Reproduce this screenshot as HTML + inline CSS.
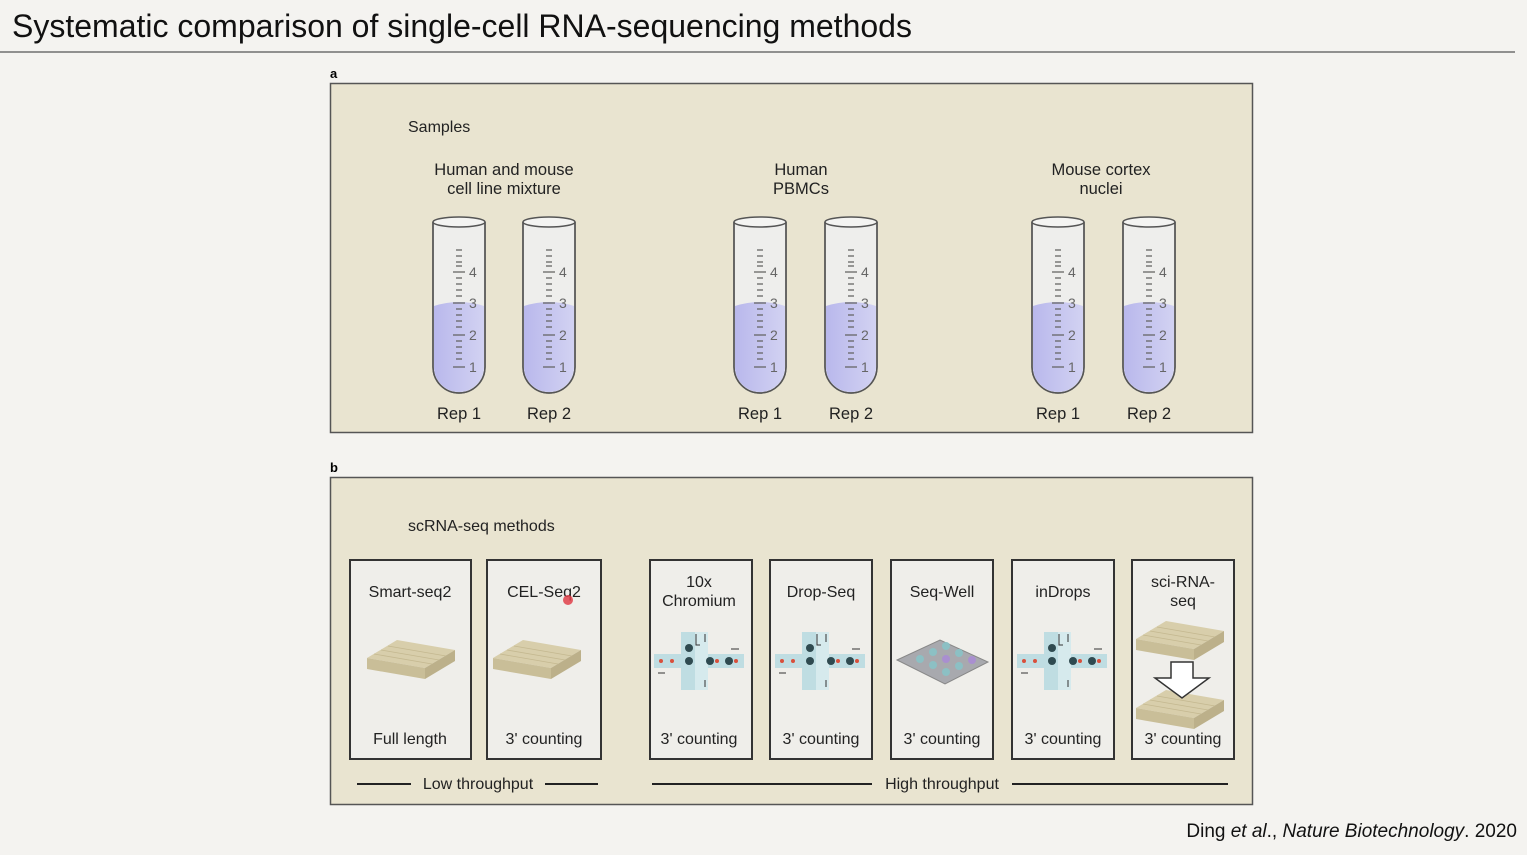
<!DOCTYPE html>
<html><head><meta charset="utf-8"><style>
html,body{margin:0;padding:0;background:#f4f3f0;}
svg{display:block;font-family:"Liberation Sans",sans-serif;}
</style></head><body>
<svg width="1527" height="855" viewBox="0 0 1527 855" xmlns="http://www.w3.org/2000/svg">
<defs>
<linearGradient id="liq" x1="0" x2="1"><stop offset="0" stop-color="#b9b8ec"/><stop offset="1" stop-color="#d2d2f2"/></linearGradient>
<g id="tube">
 <path d="M-26,0 L-26,145 A26,26 0 0 0 26,145 L26,0" fill="#eeeeec" stroke="#555" stroke-width="1.5"/>
 <path d="M-25,84 Q0,76 25,84 L25,145 A25,25 0 0 1 -25,145 Z" fill="url(#liq)"/>
 <path d="M-26,0 L-26,145 A26,26 0 0 0 26,145 L26,0" fill="none" stroke="#555" stroke-width="1.5"/>
 <ellipse cx="0" cy="0" rx="26" ry="5" fill="#f4f4f2" stroke="#555" stroke-width="1.5"/>
 <g stroke="#666" stroke-width="1.3">
  <line x1="-3" y1="28" x2="3" y2="28"/><line x1="-3" y1="34" x2="3" y2="34"/><line x1="-3" y1="40" x2="3" y2="40"/><line x1="-3" y1="44" x2="3" y2="44"/>
  <line x1="-6" y1="50" x2="6" y2="50"/><line x1="-3" y1="56" x2="3" y2="56"/><line x1="-3" y1="62" x2="3" y2="62"/><line x1="-3" y1="68" x2="3" y2="68"/><line x1="-3" y1="74" x2="3" y2="74"/>
  <line x1="-6" y1="81" x2="6" y2="81"/><line x1="-3" y1="87" x2="3" y2="87"/><line x1="-3" y1="93" x2="3" y2="93"/><line x1="-3" y1="99" x2="3" y2="99"/><line x1="-3" y1="105" x2="3" y2="105"/>
  <line x1="-6" y1="113" x2="6" y2="113"/><line x1="-3" y1="119" x2="3" y2="119"/><line x1="-3" y1="125" x2="3" y2="125"/><line x1="-3" y1="131" x2="3" y2="131"/><line x1="-3" y1="137" x2="3" y2="137"/>
  <line x1="-6" y1="145" x2="6" y2="145"/>
 </g>
 <g fill="#666" font-size="14"><text x="10" y="55">4</text><text x="10" y="86">3</text><text x="10" y="118">2</text><text x="10" y="150">1</text></g>
</g>
<g id="plate">
 <path d="M-44,-4 L-14,-22 L44,-12 L14,6 Z" fill="#d8ceab"/>
 <path d="M-44,-4 L14,6 L14,17 L-44,7 Z" fill="#c9be98"/>
 <path d="M14,6 L44,-12 L44,-1 L14,17 Z" fill="#bcb08a"/>
 <g stroke="#c4b890" stroke-width="0.8"><line x1="-37" y1="-8" x2="21" y2="2"/><line x1="-30" y1="-12" x2="28" y2="-2"/><line x1="-23" y1="-16" x2="35" y2="-6"/></g>
</g>
<g id="chip">
 <path d="M-45,-6 L-18,-6 L-18,-28 L9,-28 L9,-6 L45,-6 L45,8 L9,8 L9,30 L-18,30 L-18,8 L-45,8 Z" fill="#bfdde2"/>
 <rect x="-4" y="-28" width="13" height="58" fill="#d6eaed"/>
 <g fill="#2f4a50"><circle cx="-10" cy="-12" r="4"/><circle cx="-10" cy="1" r="4"/><circle cx="11" cy="1" r="4"/><circle cx="30" cy="1" r="4"/></g>
 <g fill="#d9503c"><circle cx="-38" cy="1" r="2"/><circle cx="-27" cy="1" r="2"/><circle cx="18" cy="1" r="2"/><circle cx="37" cy="1" r="2"/></g>
 <g stroke="#333" stroke-width="1" fill="none"><path d="M-3,-26 L-3,-15 L1,-15"/><line x1="6" y1="-26" x2="6" y2="-18"/><line x1="6" y1="27" x2="6" y2="20"/><line x1="32" y1="-11" x2="40" y2="-11"/><line x1="-41" y1="13" x2="-34" y2="13"/></g>
</g>
</defs>
<text x="12" y="37" font-size="32" fill="#111">Systematic comparison of single-cell RNA-sequencing methods</text>
<line x1="0" y1="52" x2="1515" y2="52" stroke="#555" stroke-width="1.2"/>
<text x="330" y="78" font-size="13" font-weight="bold">a</text>
<rect x="330.5" y="83.5" width="922" height="349" fill="#e9e4d0" stroke="#555" stroke-width="1.5"/>
<text x="408" y="132" font-size="16" fill="#222">Samples</text>
<g font-size="16.5" fill="#222" text-anchor="middle">
<text x="504" y="175">Human and mouse</text><text x="504" y="194">cell line mixture</text>
<text x="801" y="175">Human</text><text x="801" y="194">PBMCs</text>
<text x="1101" y="175">Mouse cortex</text><text x="1101" y="194">nuclei</text>
<text x="459" y="419">Rep 1</text><text x="549" y="419">Rep 2</text>
<text x="760" y="419">Rep 1</text><text x="851" y="419">Rep 2</text>
<text x="1058" y="419">Rep 1</text><text x="1149" y="419">Rep 2</text>
</g>
<use href="#tube" x="459" y="222"/><use href="#tube" x="549" y="222"/>
<use href="#tube" x="760" y="222"/><use href="#tube" x="851" y="222"/>
<use href="#tube" x="1058" y="222"/><use href="#tube" x="1149" y="222"/>
<text x="330" y="472" font-size="13" font-weight="bold">b</text>
<rect x="330.5" y="477.5" width="922" height="327" fill="#e9e4d0" stroke="#555" stroke-width="1.5"/>
<text x="408" y="531" font-size="16" fill="#222">scRNA-seq methods</text>
<g fill="#efeeea" stroke="#333" stroke-width="2">
<rect x="350" y="560" width="121" height="199"/><rect x="487" y="560" width="114" height="199"/>
<rect x="650" y="560" width="102" height="199"/><rect x="770" y="560" width="102" height="199"/>
<rect x="891" y="560" width="102" height="199"/><rect x="1012" y="560" width="102" height="199"/>
<rect x="1132" y="560" width="102" height="199"/>
</g>
<g font-size="16" fill="#222" text-anchor="middle">
<text x="410" y="597">Smart-seq2</text><text x="544" y="597">CEL-Seq2</text>
<text x="699" y="587">10x</text><text x="699" y="606">Chromium</text>
<text x="821" y="597">Drop-Seq</text><text x="942" y="597">Seq-Well</text><text x="1063" y="597">inDrops</text>
<text x="1183" y="587">sci-RNA-</text><text x="1183" y="606">seq</text>
<text x="410" y="744">Full length</text><text x="544" y="744">3' counting</text>
<text x="699" y="744">3' counting</text><text x="821" y="744">3' counting</text><text x="942" y="744">3' counting</text>
<text x="1063" y="744">3' counting</text><text x="1183" y="744">3' counting</text>
<text x="478" y="789">Low throughput</text><text x="942" y="789">High throughput</text>
</g>
<use href="#plate" x="411" y="662"/><use href="#plate" x="537" y="662"/>
<circle cx="568" cy="600" r="5" fill="#e0404a" opacity="0.85"/>
<use href="#chip" x="699" y="660"/><use href="#chip" x="820" y="660"/><use href="#chip" x="1062" y="660"/>
<g>
 <path d="M897,660 L940,640 L988,662 L945,684 Z" fill="#a8a9ae" stroke="#888"/>
 <g fill="#8cc0c4"><circle cx="920" cy="659" r="4"/><circle cx="933" cy="652" r="4"/><circle cx="946" cy="646" r="4"/><circle cx="933" cy="665" r="4"/><circle cx="946" cy="659" r="4" fill="#a98fd0"/><circle cx="959" cy="653" r="4"/><circle cx="946" cy="672" r="4"/><circle cx="959" cy="666" r="4"/><circle cx="972" cy="660" r="4" fill="#a98fd0"/></g>
</g>
<use href="#plate" x="1180" y="643"/><use href="#plate" x="1180" y="712"/>
<path d="M1171,662 L1193,662 L1193,678 L1209,678 L1182,698 L1155,678 L1171,678 Z" fill="#fff" stroke="#333" stroke-width="1.5"/>
<g stroke="#222" stroke-width="2">
<line x1="357" y1="784" x2="411" y2="784"/><line x1="545" y1="784" x2="598" y2="784"/>
<line x1="652" y1="784" x2="872" y2="784"/><line x1="1012" y1="784" x2="1228" y2="784"/>
</g>
<text x="1517" y="837" font-size="19" text-anchor="end" fill="#111">Ding <tspan font-style="italic">et al</tspan>., <tspan font-style="italic">Nature Biotechnology</tspan>. 2020</text>
</svg>
</body></html>
